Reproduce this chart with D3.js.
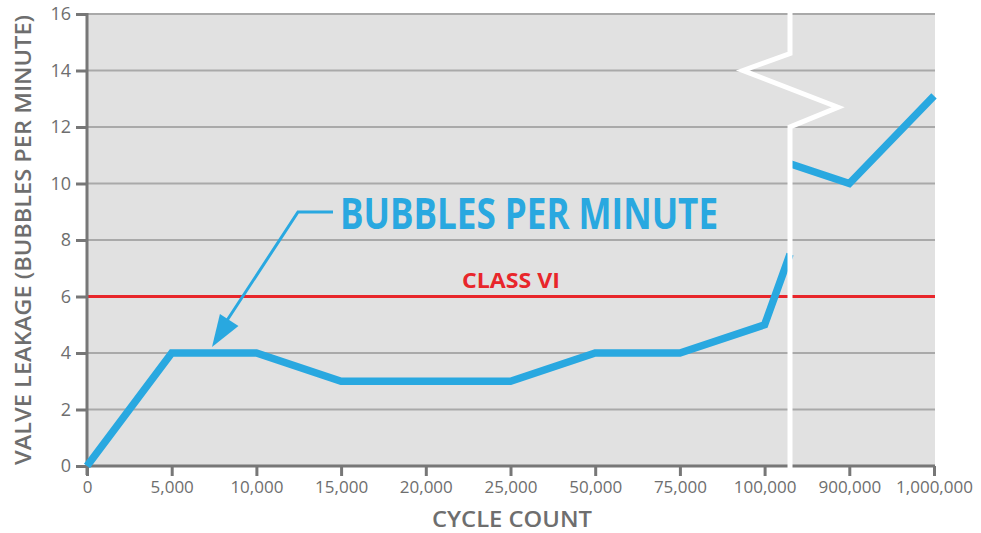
<!DOCTYPE html>
<html><head><meta charset="utf-8">
<script src="https://cdn.jsdelivr.net/npm/d3@7"></script>
<style>body{margin:0;background:#fff}svg{display:block}</style>
</head><body>
<svg id="c" width="981" height="533"></svg>
<script>
// ---- data ----
const xCategories = ["0","5,000","10,000","15,000","20,000","25,000","50,000","75,000","100,000","900,000","1,000,000"];
const yTicks = [0,2,4,6,8,10,12,14,16];
const breakIndex = 8.3;
// leakage before the axis break (x in category index)
const leakBeforeX = [0,1,2,3,4,5,6,7,8,breakIndex];
const leakBeforeY = [0,4,4,3,3,3,4,4,5,7.5];
// leakage after the axis break
const leakAfterX = [breakIndex,9,10];
const leakAfterY = [10.7,10,13.1];
const classVI = 6;

// ---- layout ----
const svg = d3.select("#c");
const L=87, R=935, T=14, B=466;
const x = d3.scaleLinear().domain([0,xCategories.length-1]).range([L,934]);
const y = d3.scaleLinear().domain([0,16]).range([B,T]);
const axisCol="#777", textCol="#6e6e6e", blue="#29a8e0", red="#e8262b";
const font="'Open Sans','Noto Sans',sans-serif";

svg.append("rect").attr("x",L).attr("y",T).attr("width",R-L).attr("height",B-T).attr("fill","#e1e1e1");

// gridlines
svg.append("g").selectAll("line").data(yTicks.filter(d=>d>0)).join("line")
  .attr("x1",L).attr("x2",R).attr("y1",d=>y(d)).attr("y2",d=>y(d))
  .attr("stroke","#a9a9a9").attr("stroke-width",2);

// class VI line
svg.append("line").attr("x1",L).attr("x2",R).attr("y1",y(classVI)).attr("y2",y(classVI))
  .attr("stroke",red).attr("stroke-width",3);
svg.append("text").attr("x",511).attr("y",y(classVI)-9).attr("text-anchor","middle")
  .attr("font-family",font).attr("font-weight","bold").attr("font-size",21).attr("fill",red)
  .attr("textLength",98).attr("lengthAdjust","spacingAndGlyphs").text("CLASS VI");

// y axis
const yAxis = d3.axisLeft(y).tickValues(yTicks).tickSize(11).tickPadding(5);
const gy = svg.append("g").attr("transform",`translate(${L},0)`).call(yAxis);
gy.select(".domain").remove();
gy.append("line").attr("x1",0).attr("x2",0).attr("y1",T-1).attr("y2",B+9).attr("stroke",axisCol).attr("stroke-width",3);
gy.selectAll(".tick line").attr("stroke",axisCol).attr("stroke-width",3);
gy.selectAll(".tick text").attr("font-family",font).attr("font-size",18).attr("fill",textCol);

// x axis
const xAxis = d3.axisBottom(x).tickValues(d3.range(xCategories.length)).tickFormat(i=>xCategories[i]).tickSize(10).tickPadding(5);
const gx = svg.append("g").attr("transform",`translate(0,${B})`).call(xAxis);
gx.select(".domain").remove();
gx.append("line").attr("x1",L).attr("x2",R).attr("y1",0).attr("y2",0).attr("stroke",axisCol).attr("stroke-width",3);
gx.selectAll(".tick line").attr("stroke",axisCol).attr("stroke-width",3);
gx.selectAll(".tick text").attr("font-family",font).attr("font-size",17).attr("fill",textCol);

// data lines
const line = d3.line().x(d=>x(d[0])).y(d=>y(d[1]));
svg.append("path").datum(leakBeforeX.map((v,i)=>[v,leakBeforeY[i]]))
  .attr("d",line).attr("fill","none").attr("stroke",blue).attr("stroke-width",7.5).attr("stroke-linejoin","miter");
svg.append("path").datum(leakAfterX.map((v,i)=>[v,leakAfterY[i]]))
  .attr("d",line).attr("fill","none").attr("stroke",blue).attr("stroke-width",7.5).attr("stroke-linejoin","miter");

// axis break
const bx = x(breakIndex);
const brk = [[bx,y(16)-2],[bx,y(14.6)],[bx-47,y(14.0)],[bx+48,y(12.7)],[bx,y(12.0)],[bx,B+6]];
svg.append("path").attr("d",d3.line()(brk)).attr("fill","none").attr("stroke","#fff").attr("stroke-width",5).attr("stroke-linejoin","miter");

// annotation
svg.append("text").attr("x",340).attr("y",229).attr("font-family",font).attr("font-weight","bold")
  .attr("font-size",43).attr("fill",blue).attr("textLength",378).attr("lengthAdjust","spacingAndGlyphs")
  .text("BUBBLES PER MINUTE");
const tip=[212,347], knee=[298,212];
svg.append("polyline").attr("points",`333,212 ${knee} ${tip[0]+12},${tip[1]-22}`)
  .attr("fill","none").attr("stroke",blue).attr("stroke-width",3);
// arrowhead
const ang=Math.atan2(tip[1]-knee[1],tip[0]-knee[0]);
const len=32, hw=11;
const bxh=tip[0]-len*Math.cos(ang), byh=tip[1]-len*Math.sin(ang);
svg.append("polygon").attr("points",[
  tip,
  [bxh+hw*Math.sin(ang), byh-hw*Math.cos(ang)],
  [bxh-hw*Math.sin(ang), byh+hw*Math.cos(ang)]
].map(p=>p.join(",")).join(" ")).attr("fill",blue);

// axis titles
svg.append("text").attr("transform",`translate(31,240) rotate(-90)`).attr("text-anchor","middle")
  .attr("font-family",font).attr("font-weight",600).attr("font-size",22).attr("fill",textCol)
  .attr("textLength",450).attr("lengthAdjust","spacingAndGlyphs").text("VALVE LEAKAGE (BUBBLES PER MINUTE)");
svg.append("text").attr("x",512).attr("y",527).attr("text-anchor","middle")
  .attr("font-family",font).attr("font-weight",600).attr("font-size",22).attr("fill",textCol)
  .attr("textLength",160).attr("lengthAdjust","spacingAndGlyphs").text("CYCLE COUNT");
</script>
</body></html>
